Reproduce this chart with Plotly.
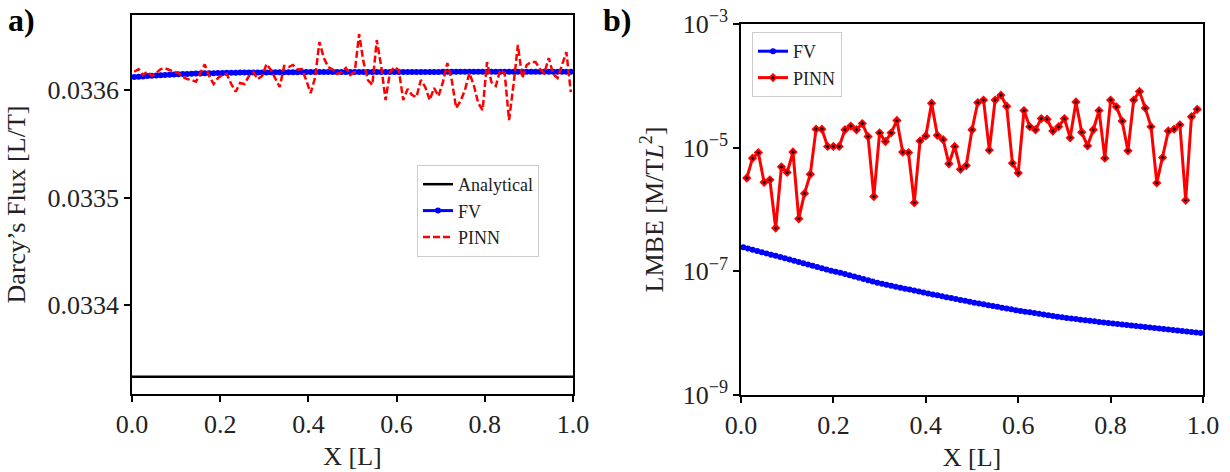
import numpy as np
import plotly.graph_objects as go

# ---------------- data ----------------
# panel a) Darcy's flux
x_cells = np.linspace(0.005, 0.995, 100)
x_analytical = [0.0, 1.0]
flux_analytical = [0.0333333, 0.0333333]

flux_fv = [
    0.0336121, 0.0336124, 0.0336127, 0.0336130, 0.0336133, 0.0336136, 0.0336138, 0.0336140, 0.0336142, 0.0336144,
    0.0336146, 0.0336148, 0.0336150, 0.0336151, 0.0336153, 0.0336154, 0.0336155, 0.0336156, 0.0336157, 0.0336158,
    0.0336159, 0.0336160, 0.0336160, 0.0336161, 0.0336162, 0.0336162, 0.0336163, 0.0336163, 0.0336164, 0.0336164,
    0.0336164, 0.0336165, 0.0336165, 0.0336165, 0.0336166, 0.0336166, 0.0336166, 0.0336166, 0.0336167, 0.0336167,
    0.0336167, 0.0336167, 0.0336167, 0.0336167, 0.0336167, 0.0336167, 0.0336167, 0.0336167, 0.0336167, 0.0336167,
    0.0336168, 0.0336168, 0.0336168, 0.0336168, 0.0336168, 0.0336168, 0.0336168, 0.0336168, 0.0336168, 0.0336168,
    0.0336168, 0.0336168, 0.0336168, 0.0336168, 0.0336168, 0.0336168, 0.0336168, 0.0336168, 0.0336168, 0.0336168,
    0.0336169, 0.0336169, 0.0336169, 0.0336169, 0.0336169, 0.0336169, 0.0336169, 0.0336169, 0.0336169, 0.0336169,
    0.0336169, 0.0336169, 0.0336169, 0.0336169, 0.0336169, 0.0336169, 0.0336169, 0.0336169, 0.0336169, 0.0336169,
    0.0336170, 0.0336170, 0.0336170, 0.0336170, 0.0336170, 0.0336170, 0.0336170, 0.0336170, 0.0336170, 0.0336170,
]

flux_pinn = [
    0.0336170, 0.0336195, 0.0336140, 0.0336170, 0.0336133, 0.0336158, 0.0336195, 0.0336202, 0.0336186, 0.0336172,
    0.0336158, 0.0336121, 0.0336102, 0.0336093, 0.0336077, 0.0336158, 0.0336239, 0.0336130, 0.0336056, 0.0336112,
    0.0336140, 0.0336149, 0.0336056, 0.0335984, 0.0336065, 0.0336056, 0.0336130, 0.0336167, 0.0336102, 0.0336130,
    0.0336242, 0.0336186, 0.0336112, 0.0336028, 0.0336223, 0.0336214, 0.0336233, 0.0336191, 0.0336195, 0.0336093,
    0.0335972, 0.0336112, 0.0336447, 0.0336298, 0.0336214, 0.0336191, 0.0336149, 0.0336167, 0.0336205, 0.0336140,
    0.0336167, 0.0336521, 0.0336260, 0.0336093, 0.0336047, 0.0336465, 0.0336223, 0.0335907, 0.0336167, 0.0336214,
    0.0336186, 0.0335907, 0.0336009, 0.0335953, 0.0335935, 0.0336093, 0.0336028, 0.0335907, 0.0336019, 0.0335944,
    0.0336074, 0.0336251, 0.0336093, 0.0335833, 0.0335898, 0.0336000, 0.0336158, 0.0336047, 0.0335879, 0.0335814,
    0.0336260, 0.0336074, 0.0336037, 0.0336186, 0.0336158, 0.0335721, 0.0336047, 0.0336419, 0.0336112, 0.0336233,
    0.0336260, 0.0336260, 0.0336195, 0.0336158, 0.0336298, 0.0336149, 0.0336112, 0.0336233, 0.0336353, 0.0335981,
]

# panel b) LMBE (values read as log10)
x_nodes_pinn = np.linspace(0.0125, 0.9875, 79)
lmbe_fv_log10 = [
    -6.61, -6.63, -6.65, -6.67, -6.69, -6.71, -6.73, -6.75, -6.77, -6.79,
    -6.81, -6.83, -6.85, -6.87, -6.89, -6.91, -6.93, -6.95, -6.97, -6.99,
    -7.005, -7.025, -7.045, -7.065, -7.085, -7.105, -7.125, -7.145, -7.165, -7.185,
    -7.203, -7.218, -7.234, -7.249, -7.265, -7.280, -7.296, -7.311, -7.327, -7.342,
    -7.358, -7.373, -7.388, -7.403, -7.418, -7.433, -7.448, -7.463, -7.478, -7.493,
    -7.507, -7.520, -7.534, -7.547, -7.561, -7.574, -7.588, -7.601, -7.615, -7.628,
    -7.641, -7.652, -7.664, -7.675, -7.687, -7.698, -7.710, -7.721, -7.733, -7.744,
    -7.755, -7.764, -7.773, -7.782, -7.791, -7.800, -7.809, -7.818, -7.827, -7.836,
    -7.844, -7.852, -7.860, -7.868, -7.876, -7.884, -7.892, -7.900, -7.908, -7.916,
    -7.924, -7.932, -7.940, -7.948, -7.956, -7.964, -7.972, -7.980, -7.988, -7.996,
]
lmbe_pinn_log10 = [
    -5.49, -5.17, -5.08, -5.56, -5.52, -6.30, -5.31, -5.40, -5.07, -6.15,
    -5.74, -5.43, -4.70, -4.70, -4.98, -4.98, -4.98, -4.71, -4.65, -4.71,
    -4.61, -4.82, -5.79, -4.76, -4.90, -4.76, -4.56, -5.07, -5.08, -5.89,
    -4.89, -4.81, -4.28, -4.80, -4.87, -5.26, -4.98, -5.35, -5.29, -4.71,
    -4.27, -4.23, -5.04, -4.23, -4.15, -4.33, -5.25, -5.41, -4.40, -4.66,
    -4.71, -4.53, -4.54, -4.73, -4.66, -4.53, -4.84, -4.26, -4.75, -4.97,
    -4.71, -4.40, -5.17, -4.23, -4.34, -4.57, -5.05, -4.23, -4.09, -4.36,
    -4.66, -5.57, -5.16, -4.73, -4.70, -4.63, -5.85, -4.50, -4.38,
]
lmbe_fv = np.power(10.0, lmbe_fv_log10)
lmbe_pinn = np.power(10.0, lmbe_pinn_log10)

x_ticks = [0.0, 0.2, 0.4, 0.6, 0.8, 1.0]
x_tick_labels = ["0.0", "0.2", "0.4", "0.6", "0.8", "1.0"]
flux_ticks = [0.0334, 0.0335, 0.0336]
flux_tick_labels = ["0.0334", "0.0335", "0.0336"]
lmbe_ticks = [1e-9, 1e-7, 1e-5, 1e-3]
lmbe_tick_labels = ["10<sup>−9</sup>", "10<sup>−7</sup>", "10<sup>−5</sup>", "10<sup>−3</sup>"]

# ---------------- figure ----------------
FONT = "Liberation Serif"
W, H = 1230, 472
BLUE = "#0000ff"
RED = "#ff0000"
TXT = "#222222"


def fx(p):
    return p / W


def fy(p):
    return 1 - p / H


fig = go.Figure()

fig.add_trace(go.Scatter(x=x_analytical, y=flux_analytical, mode="lines", name="Analytical",
                         line=dict(color="black", width=2.5), xaxis="x", yaxis="y", legend="legend"))
fig.add_trace(go.Scatter(x=x_cells, y=flux_fv, mode="lines+markers", name="FV",
                         line=dict(color=BLUE, width=3), marker=dict(color=BLUE, size=6, symbol="circle"),
                         xaxis="x", yaxis="y", legend="legend"))
fig.add_trace(go.Scatter(x=x_cells, y=flux_pinn, mode="lines", name="PINN",
                         line=dict(color=RED, width=2.5, dash="7px,3px"), xaxis="x", yaxis="y", legend="legend"))

fig.add_trace(go.Scatter(x=x_cells, y=lmbe_fv, mode="lines+markers", name="FV",
                         line=dict(color=BLUE, width=3), marker=dict(color=BLUE, size=6, symbol="circle"),
                         xaxis="x2", yaxis="y2", legend="legend2"))
fig.add_trace(go.Scatter(x=x_nodes_pinn, y=lmbe_pinn, mode="lines+markers", name="PINN",
                         line=dict(color=RED, width=3),
                         marker=dict(color="black", size=5, symbol="diamond", line=dict(color=RED, width=2)),
                         xaxis="x2", yaxis="y2", legend="legend2"))

axis_common = dict(showline=True, linecolor="black", linewidth=1.5, mirror=True, ticks="outside",
                   ticklen=6, tickwidth=1.5, tickcolor="black", showgrid=False, zeroline=False,
                   automargin=False, ticklabeloverflow="allow",
                   tickfont=dict(family=FONT, size=26, color=TXT))
title_font = dict(family=FONT, size=26, color=TXT)

fig.update_layout(
    width=W, height=H,
    margin=dict(l=0, r=0, t=0, b=0, autoexpand=False),
    paper_bgcolor="white", plot_bgcolor="white",
    font=dict(family=FONT, color=TXT),
    xaxis=dict(domain=[fx(132), fx(573)], range=[0, 1], tickvals=x_ticks, ticktext=x_tick_labels,
               anchor="y", title=dict(text="X [L]", font=title_font, standoff=9),
               **axis_common),
    yaxis=dict(domain=[fy(394), fy(15)], range=[0.0333172, 0.0336698], tickvals=flux_ticks,
               ticktext=flux_tick_labels, anchor="x",
               title=dict(text="Darcy’s Flux [L/T]", font=title_font, standoff=14),
               **axis_common),
    xaxis2=dict(domain=[fx(741), fx(1203)], range=[0, 1], tickvals=x_ticks, ticktext=x_tick_labels,
                anchor="y2", title=dict(text="X [L]", font=title_font, standoff=9),
                **axis_common),
    yaxis2=dict(domain=[fy(395), fy(24)], type="log", range=[-9.0005, -2.9995], tickvals=lmbe_ticks,
                ticktext=lmbe_tick_labels, anchor="x2",
                title=dict(text="LMBE [M/T<i>L</i><sup>2</sup>]", font=title_font, standoff=12),
                **axis_common),
    legend=dict(x=fx(417), y=fy(165), xanchor="left", yanchor="top", bgcolor="white",
                bordercolor="#cccccc", borderwidth=1, font=dict(family=FONT, size=18, color=TXT),
                tracegroupgap=0),
    legend2=dict(x=fx(752), y=fy(32), xanchor="left", yanchor="top", bgcolor="white",
                 bordercolor="#cccccc", borderwidth=1, font=dict(family=FONT, size=18, color=TXT),
                 tracegroupgap=0),
    showlegend=True,
)

fig.add_annotation(text="<b>a)</b>", xref="paper", yref="paper", x=fx(6), y=1.0,
                   xanchor="left", yanchor="top", showarrow=False,
                   font=dict(family=FONT, size=32, color="black"))
fig.add_annotation(text="<b>b)</b>", xref="paper", yref="paper", x=fx(601), y=1.0,
                   xanchor="left", yanchor="top", showarrow=False,
                   font=dict(family=FONT, size=32, color="black"))

fig.write_html("out.html", config={"displayModeBar": False},
               post_script="document.body.style.margin='0px';")
